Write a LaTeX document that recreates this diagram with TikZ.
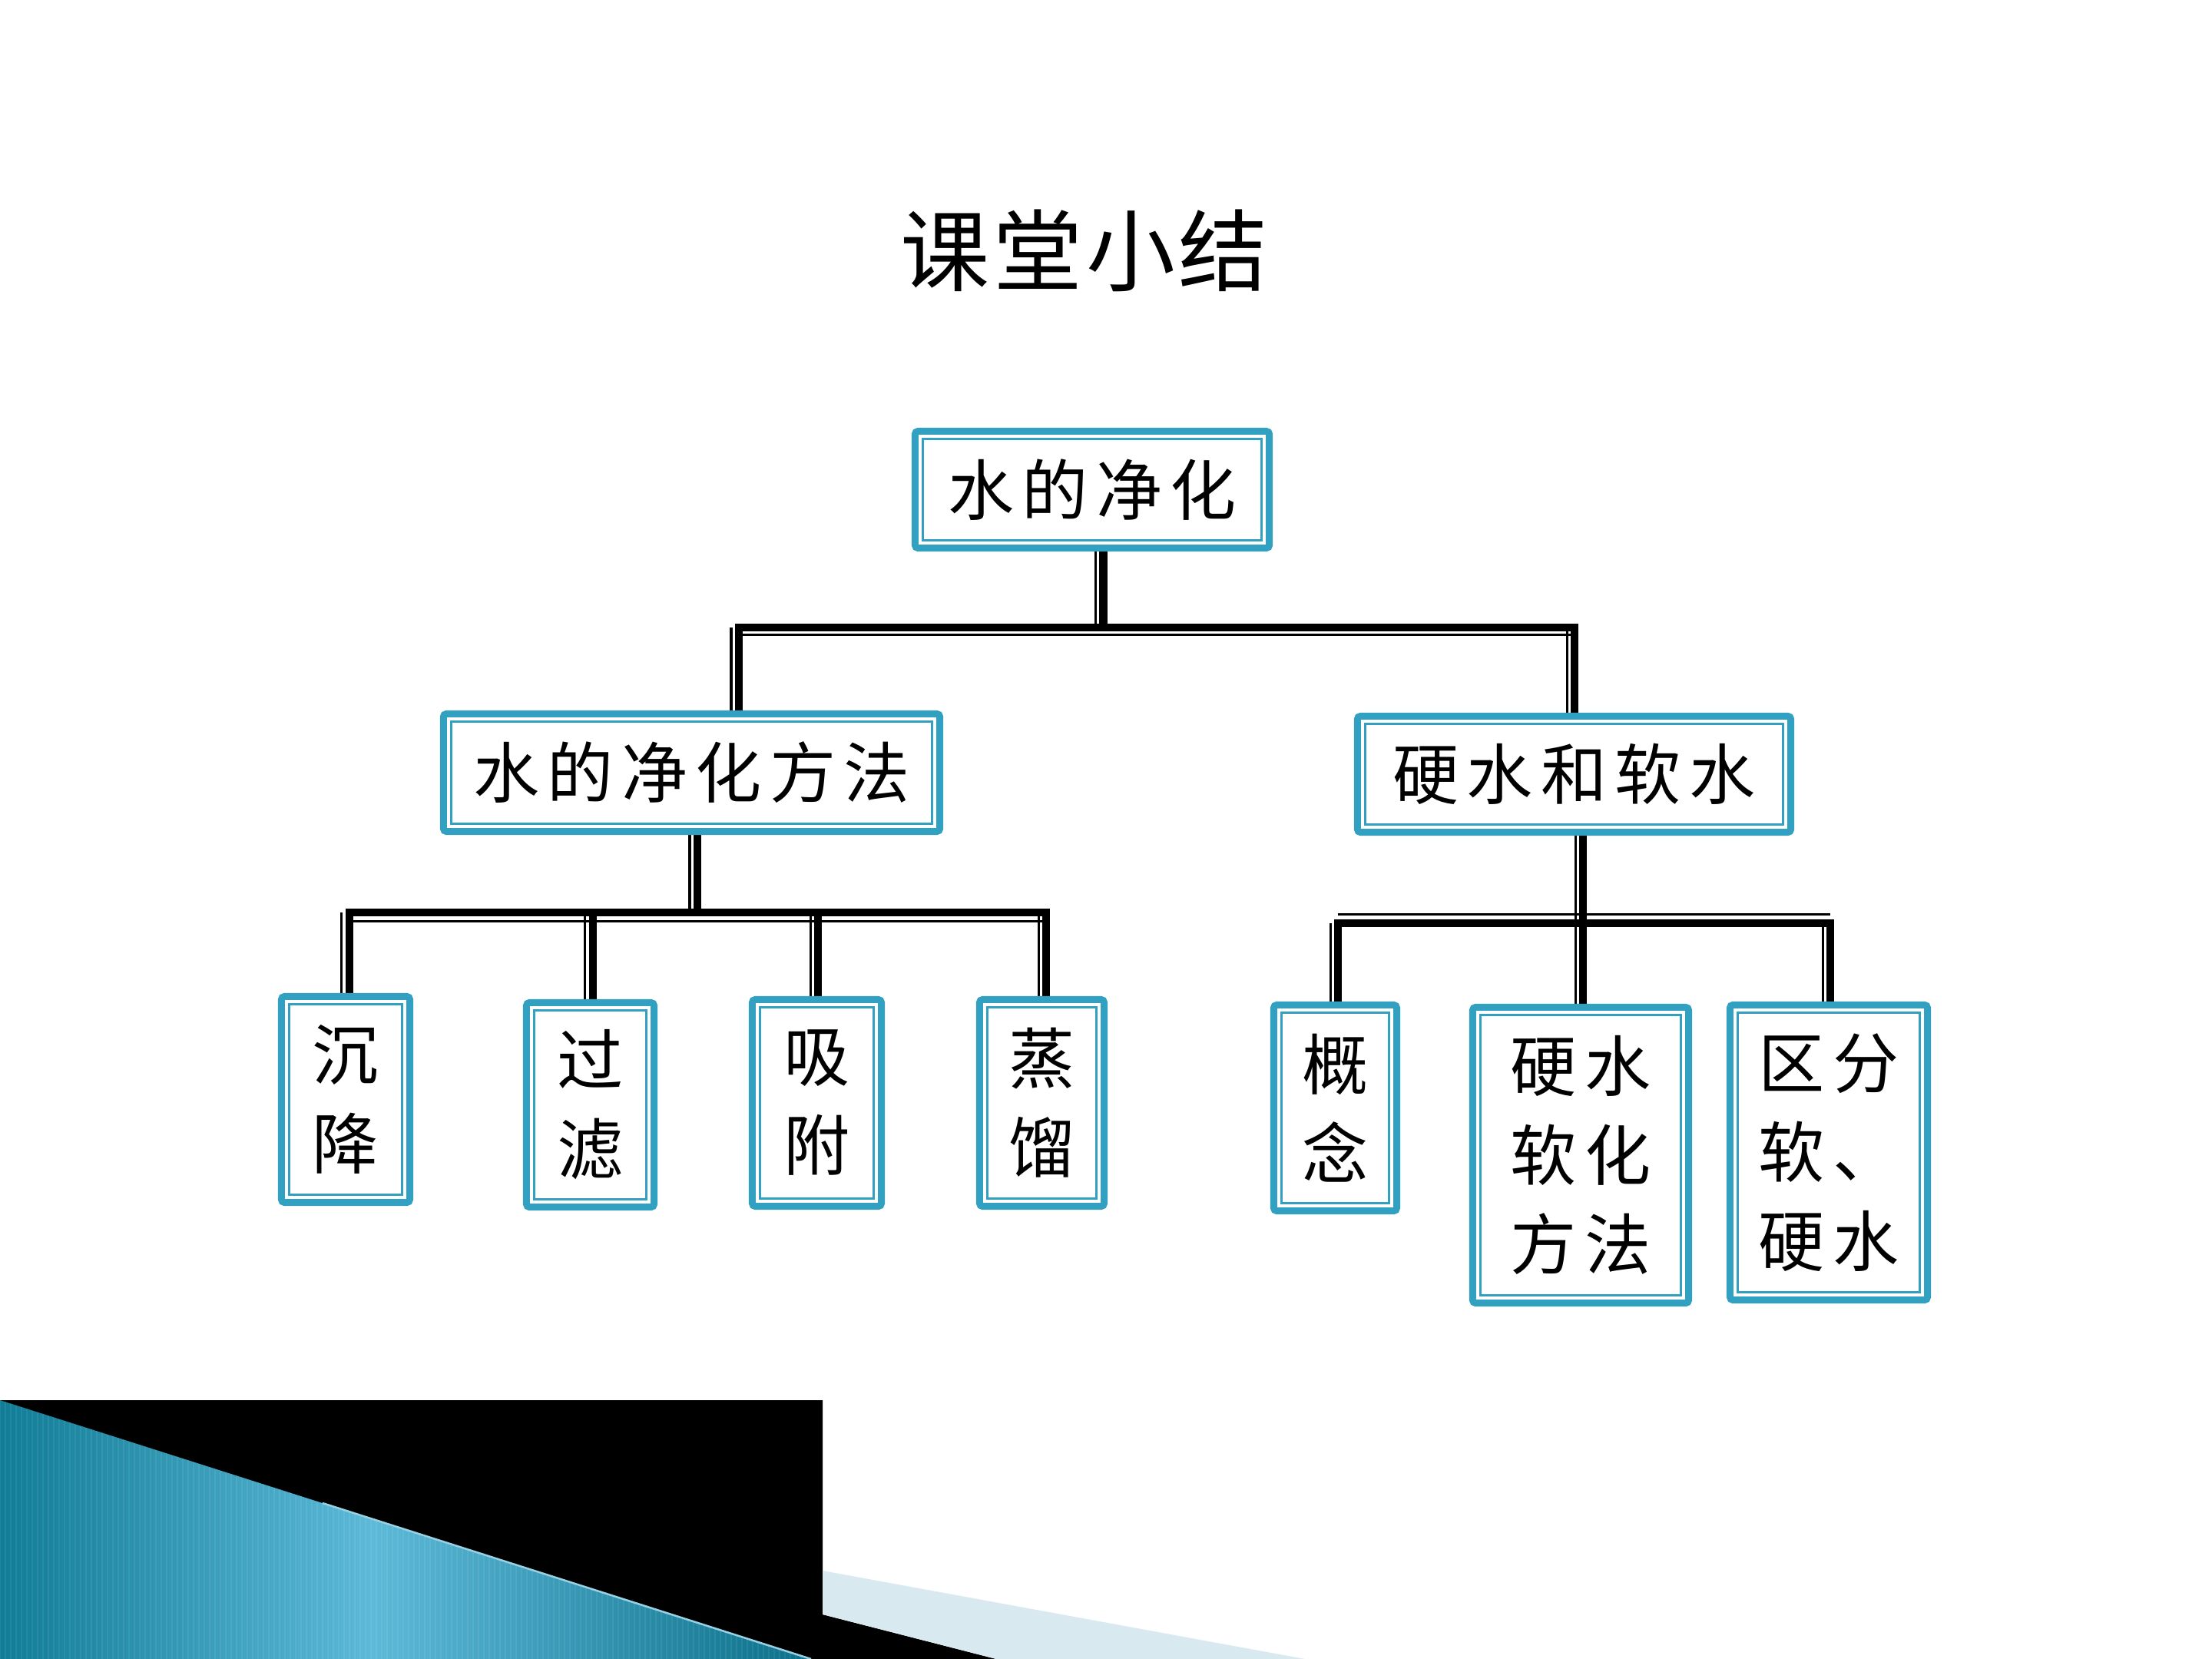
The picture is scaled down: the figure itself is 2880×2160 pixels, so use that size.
\documentclass[tikz,border=0pt]{standalone}
\usepackage{fontspec}
\setmainfont{Noto Sans CJK SC}
\newfontfamily\cjkt{Noto Sans CJK SC}[LetterSpace=4]
\newfontfamily\cjkb{Noto Sans CJK SC}[LetterSpace=12]
\pgfdeclarelayer{paper}
\pgfdeclarelayer{bg}
\pgfsetlayers{paper,bg,main}
\definecolor{tealb}{RGB}{50,161,193}
\definecolor{tealdk}{RGB}{16,124,150}
\definecolor{tealdkb}{RGB}{12,112,138}
\definecolor{teallt}{RGB}{92,185,216}
\definecolor{tealedge}{RGB}{150,210,228}
\definecolor{paleb}{RGB}{216,233,240}
\pgfdeclarehorizontalshading{tealsh}{100bp}{color(0bp)=(tealdk); color(25bp)=(tealdk); color(48bp)=(teallt); color(75bp)=(tealdkb); color(100bp)=(tealdkb)}
\newcommand\dblv[2]{\draw[thn] ([xshift=-0.1cm]#1) -- ([xshift=-0.1cm]#2); \draw[thk] (#1) -- (#2);}
\newcommand\dblh[3]{\draw[thn] ([yshift=#1]#2) -- ([yshift=#1]#3); \draw[thk] (#2) -- (#3);}
\begin{document}
\begin{tikzpicture}[x=0.01cm,y=-0.01cm,
  tbox/.style={draw=tealb, line width=0.09cm, rounded corners=0.04cm, fill=white,
    outer sep=0pt, inner sep=0pt, align=center,
    font=\cjkb\fontsize{24.5pt}{33pt}\selectfont},
  inl/.style={draw=tealb, line width=0.032cm},
  thk/.style={draw=black, line width=0.105cm, line cap=rect},
  thn/.style={draw=black, line width=0.03cm},
  titlestyle/.style={font=\cjkt\fontsize{33pt}{40pt}\selectfont, inner sep=0pt}]
\useasboundingbox (0,0) rectangle (2880,2160);
\begin{pgfonlayer}{paper}
\fill[white] (0,0) rectangle (2880,2160);
\end{pgfonlayer}

% bottom-left decoration
\fill[black] (0,1823) -- (1071,1823) -- (1071,2102) -- (1297,2160) -- (0,2160) -- cycle;
\fill[paleb] (1071,2045) -- (1699,2160) -- (1297,2160) -- (1071,2102) -- cycle;
\begin{scope}
  \clip (0,1823) -- (1056,2160) -- (0,2160) -- cycle;
  \shade[shading=tealsh] (0,1823) rectangle (1056,2160);
  \foreach \i in {0,7,...,1056} \draw[white, opacity=0.07, line width=0.012cm] (\i,1823) -- (\i,2160);
\end{scope}
\draw[tealedge, line width=0.025cm] (420,1957) -- (1056,2160);

% title
\node[titlestyle] (title) at (1412,326) {课堂小结};

% boxes
\node[tbox, minimum width=4.61cm, minimum height=1.52cm] (top) at (1422,637.5) {水的净化};
\node[tbox, minimum width=6.46cm, minimum height=1.53cm] (m1) at (900.5,1006) {水的净化方法};
\node[tbox, minimum width=5.64cm, minimum height=1.51cm] (m2) at (2049.5,1008) {硬水和软水};
\node[tbox, minimum width=1.67cm, minimum height=2.68cm] (l1) at (450,1431.5) {沉\\降};
\node[tbox, minimum width=1.66cm, minimum height=2.66cm] (l2) at (768.5,1438.5) {过\\滤};
\node[tbox, minimum width=1.68cm, minimum height=2.69cm] (l3) at (1063.5,1436) {吸\\附};
\node[tbox, minimum width=1.62cm, minimum height=2.69cm] (l4) at (1356.5,1436) {蒸\\馏};
\node[tbox, minimum width=1.60cm, minimum height=2.68cm] (r1) at (1738.5,1442.5) {概\\念};
\node[tbox, minimum width=2.81cm, minimum height=3.85cm] (r2) at (2058,1504) {硬水\\软化\\方法};
\node[tbox, minimum width=2.57cm, minimum height=3.84cm] (r3) at (2381,1500.5) {区分\\软、\\硬水};
\foreach \n in {top,m1,m2,l1,l2,l3,l4,r1,r2,r3}
  \draw[inl] ([shift={(0.1cm,-0.1cm)}]\n.north west) rectangle ([shift={(-0.1cm,0.1cm)}]\n.south east);

% connectors
\begin{pgfonlayer}{bg}
  % level 1
  \coordinate (jT) at (1436.5,817);
  \coordinate (jTs) at (jT |- top.south);
  \coordinate (jTL) at (962,817);
  \coordinate (jTR) at (2050,817);
  \coordinate (jTLe) at (jTL |- m1.north);
  \coordinate (jTRe) at (jTR |- m2.north);
  \dblv{jTs}{jT}
  \dblh{-0.09cm}{jTL}{jTR}
  \dblv{jTL}{jTLe}
  \dblv{jTR}{jTRe}
  % left subtree
  \coordinate (jM) at (908,1188);
  \coordinate (jMs) at (jM |- m1.south);
  \coordinate (jl1) at (455,1188);
  \coordinate (jl2) at (772,1188);
  \coordinate (jl3) at (1065,1188);
  \coordinate (jl4) at (1362,1188);
  \coordinate (el1) at (jl1 |- l1.north);
  \coordinate (el2) at (jl2 |- l2.north);
  \coordinate (el3) at (jl3 |- l3.north);
  \coordinate (el4) at (jl4 |- l4.north);
  \dblv{jMs}{jM}
  \dblh{-0.11cm}{jl1}{jl4}
  \dblv{jl1}{el1}
  \dblv{jl2}{el2}
  \dblv{jl3}{el3}
  \dblv{jl4}{el4}
  % right subtree
  \coordinate (jR) at (2061,1202);
  \coordinate (jRs) at (jR |- m2.south);
  \coordinate (jRe) at (jR |- r2.north);
  \coordinate (jr1) at (1742,1202);
  \coordinate (jr3) at (2383,1202);
  \coordinate (er1) at (jr1 |- r1.north);
  \coordinate (er3) at (jr3 |- r3.north);
  \dblh{0.12cm}{jr1}{jr3}
  \dblv{jRs}{jRe}
  \dblv{jr1}{er1}
  \dblv{jr3}{er3}
\end{pgfonlayer}
\end{tikzpicture}
\end{document}
